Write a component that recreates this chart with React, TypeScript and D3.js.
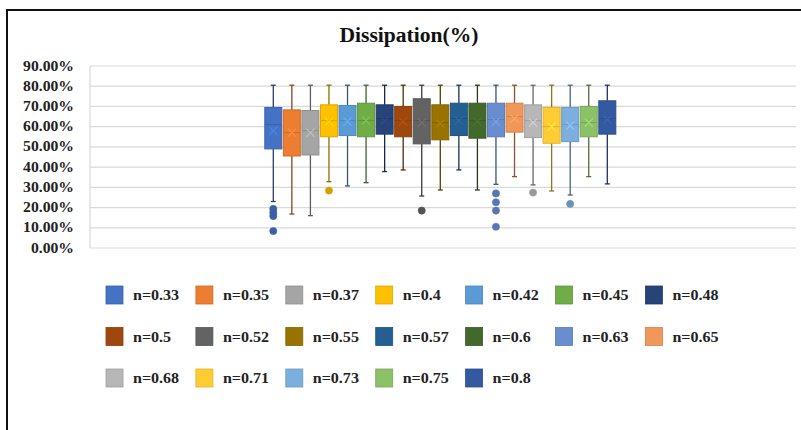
import React from "react";
import * as d3 from "d3";

const seriesNames = [
  "n=0.33", "n=0.35", "n=0.37", "n=0.4", "n=0.42", "n=0.45", "n=0.48",
  "n=0.5", "n=0.52", "n=0.55", "n=0.57", "n=0.6", "n=0.63", "n=0.65",
  "n=0.68", "n=0.71", "n=0.73", "n=0.75", "n=0.8",
];
const colors = [
  "#4472C4", "#ED7D31", "#A5A5A5", "#FFC000", "#5B9BD5", "#70AD47", "#264478",
  "#9E480E", "#636363", "#997300", "#255E91", "#43682B", "#698ED0", "#F1975A",
  "#B7B7B7", "#FFCD33", "#7CAFDD", "#8CC168", "#335AA1",
];
const mins = [23, 16.8, 16, 32.8, 30.7, 32.3, 37.8, 38.6, 25.7, 28.7, 38.6, 28.7, 31.5, 35.3, 31.2, 28.2, 26.2, 35.3, 31.7];
const q1s = [49, 45.5, 46, 55, 55.6, 55, 56.3, 55, 51.5, 53.5, 55.6, 54.3, 55, 57.3, 54.6, 51.8, 52.6, 55, 56.3];
const medians = [61, 57, 58, 63, 63, 63, 64, 63, 63, 62, 64, 63, 63.5, 65, 63, 60, 61, 62, 64];
const q3s = [69.5, 68.3, 68, 70.8, 70.5, 71.6, 70.8, 70, 73.8, 70.8, 71.6, 71.6, 71.6, 71.6, 70.8, 69.5, 69.5, 70, 72.8];
const maxs = [80.5, 80.5, 80.5, 80.5, 80.5, 80.5, 80.5, 80.5, 80.5, 80.5, 80.5, 80.5, 80.5, 80.5, 80.5, 80.5, 80.5, 80.5, 80.5];
const means = [58, 57, 57, 62.5, 62.5, 63, 63, 62.5, 62, 61.5, 63, 62.5, 62.5, 64, 62, 60, 60.5, 62, 63.5];
const outliers: number[][] = [
  [19.3, 17.5, 15.8, 8.4], [], [], [28.4], [], [], [],
  [], [18.5], [], [], [], [27, 22.6, 18.5, 10.5], [],
  [27.4], [], [21.8], [], [],
];
const yTicks = [0, 10, 20, 30, 40, 50, 60, 70, 80, 90];

const W = 801;
const H = 430;
const plotLeft = 90;
const plotRight = 796;

export default function App() {
  const y = d3.scaleLinear().domain([0, 90]).range([248, 66]);
  const x = d3.scaleBand<string>().domain(seriesNames).range([264.8, 615.8]).paddingInner(0.084).paddingOuter(0);
  const bw = x.bandwidth();
  const fmt = (v: number) => v.toFixed(2) + "%";
  const perRow = 7;
  const legX = (i: number) => 106 + (i % perRow) * 89.9;
  const legY = (i: number) => 295 + Math.floor(i / perRow) * 41.5;
  const serif = "'Liberation Serif', 'Times New Roman', serif";

  return (
    <svg width={W} height={H} style={{ position: "absolute", left: 0, top: 0, background: "#fff" }} fontFamily={serif}>
      <rect x={7} y={10} width={W + 10} height={H + 10} fill="#fff" stroke="#111" strokeWidth={2} />
      <g transform={`translate(409,42) scale(1.08,1)`}>
        <text x={0} y={0} textAnchor="middle" fontSize={20} fontWeight="bold" fill="#111">Dissipation(%)</text>
      </g>
      {yTicks.map((t) => (
        <g key={t}>
          <line x1={plotLeft} x2={plotRight} y1={y(t)} y2={y(t)} stroke="#d9d9d9" strokeWidth={1.2} />
          <g transform={`translate(74,${y(t) + 4.5}) scale(1.12,1)`}>
            <text x={0} y={0} textAnchor="end" fontSize={14} fontWeight="bold" fill="#222">{fmt(t)}</text>
          </g>
        </g>
      ))}
      <line x1={plotLeft} x2={plotLeft} y1={y(90)} y2={y(0)} stroke="#d9d9d9" strokeWidth={1.2} />
      {seriesNames.map((s, i) => {
        const c = colors[i];
        const dark = d3.color(c)!.darker(1.6).formatHex();
        const border = d3.color(c)!.darker(0.4).formatHex();
        const light = d3.color(c)!.brighter(0.5).formatHex();
        const x0 = x(s)!;
        const cx = x0 + bw / 2;
        const cap = 2.5;
        return (
          <g key={s}>
            <line x1={cx} x2={cx} y1={y(maxs[i])} y2={y(q3s[i])} stroke={dark} strokeWidth={1.3} />
            <line x1={cx} x2={cx} y1={y(q1s[i])} y2={y(mins[i])} stroke={dark} strokeWidth={1.3} />
            <line x1={cx - cap} x2={cx + cap} y1={y(maxs[i])} y2={y(maxs[i])} stroke={dark} strokeWidth={1.3} />
            <line x1={cx - cap} x2={cx + cap} y1={y(mins[i])} y2={y(mins[i])} stroke={dark} strokeWidth={1.3} />
            <rect x={x0} y={y(q3s[i])} width={bw} height={y(q1s[i]) - y(q3s[i])} fill={c} stroke={border} strokeWidth={1} />
            <line x1={x0} x2={x0 + bw} y1={y(medians[i])} y2={y(medians[i])} stroke={border} strokeWidth={1} />
            <g stroke={light} strokeWidth={1.2} opacity={0.8}>
              <line x1={cx - 4} x2={cx + 4} y1={y(means[i]) - 4} y2={y(means[i]) + 4} />
              <line x1={cx - 4} x2={cx + 4} y1={y(means[i]) + 4} y2={y(means[i]) - 4} />
            </g>
            {outliers[i].map((o, k) => (
              <circle key={k} cx={cx} cy={y(o)} r={3.6} fill={d3.color(c)!.darker(0.5).formatHex()} stroke={border} strokeWidth={0.6} />
            ))}
          </g>
        );
      })}
      {seriesNames.map((s, i) => (
        <g key={"leg" + s}>
          <rect x={legX(i)} y={legY(i) - 9} width={17} height={18} fill={colors[i]} stroke={d3.color(colors[i])!.darker(0.4).formatHex()} strokeWidth={0.8} />
          <g transform={`translate(${legX(i) + 27},${legY(i) + 5}) scale(1.07,1)`}>
            <text x={0} y={0} fontSize={15} fontWeight="bold" fill="#222">{s}</text>
          </g>
        </g>
      ))}
    </svg>
  );
}
